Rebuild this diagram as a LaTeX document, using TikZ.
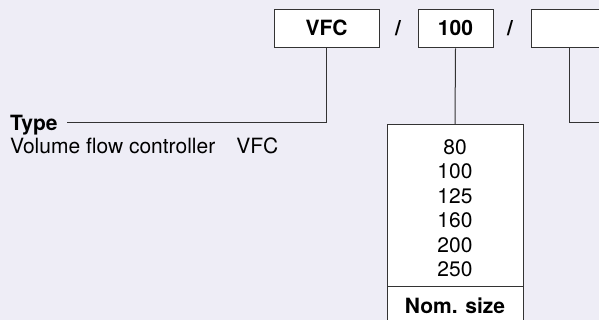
\documentclass[tikz,border=0pt]{standalone}
\usepackage{fontspec}
\setmainfont{TeX Gyre Heros}
\definecolor{bg}{RGB}{238,237,246}
\definecolor{ln}{RGB}{51,51,51}
\begin{document}
\begin{tikzpicture}[x=1pt,y=-1pt,
  every node/.style={font=\fontsize{21}{24.4}\selectfont, inner sep=0pt},
  codebox/.style={draw=ln, line width=1pt, fill=white, minimum height=38pt},
  conn/.style={draw=ln, line width=1pt},
  tbox/.style={draw=ln, line width=1pt, fill=white, minimum width=136pt}]
\useasboundingbox (0,0) rectangle (599,320);
\fill[bg] (0,0) rectangle (599,320);
\clip (0,0) rectangle (599,320);
% top code boxes
\node[codebox, minimum width=105pt] (vfc) at (326.5,29) {};
\node[anchor=base] (vfct) at (326.5,36) {\bfseries VFC};
\node[anchor=base] (s1) at (398,36) {\bfseries /};
\node[codebox, minimum width=75pt] (nom) at (455.5,29) {};
\node[anchor=base] (nomt) at (455.5,36) {\bfseries 100};
\node[anchor=base] (s2) at (510,36) {\bfseries /};
\node[codebox, minimum width=76pt] (third) at (569,29) {};
% type label
\node[anchor=base west] (type) at (10,130.5) {\bfseries Type};
\node[anchor=base west] (typedesc) at (10,154) {Volume flow controller\hspace{1em}VFC};
\coordinate (typeend) at (67,123);
\draw[conn] (vfc.south) |- (typeend);
% sizes table
\node[tbox, minimum height=162pt, anchor=north] (sizes) at (455,124) {};
\node[tbox, minimum height=50pt, anchor=north] (nomhead) at (455,286) {};
\foreach \v [count=\i from 0] in {80,100,125,160,200,250}
  \node[anchor=base] (sz\i) at (455,154.5+24.4*\i) {\v};
\node[anchor=base] (nomsize) at (455,313) {\bfseries Nom. size};
\draw[conn] (nom.south) -- (sizes.north);
% third connector
\coordinate (thirdend) at (610,123);
\draw[conn] (third.south) |- (thirdend);
\end{tikzpicture}
\end{document}
